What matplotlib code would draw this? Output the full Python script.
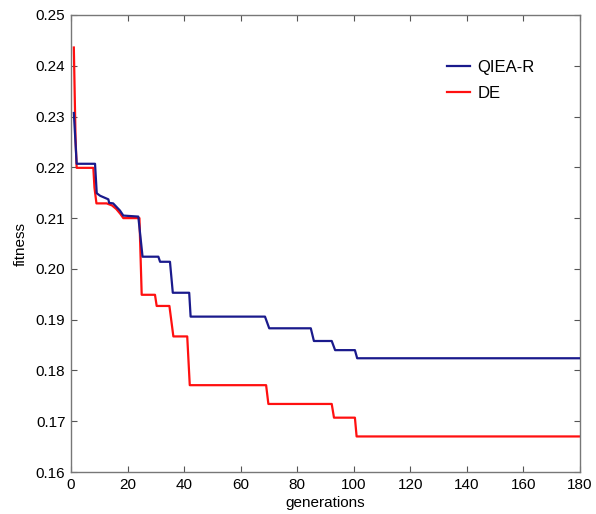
import matplotlib
matplotlib.use("Agg")
import matplotlib.pyplot as plt

plt.rcParams['font.family'] = ['Liberation Sans', 'DejaVu Sans']

# QIEA-R breakpoints (generation, fitness)
qiea_gen = [1, 1.5, 2, 8.5, 9.1, 10.3, 13.2, 13.5, 14.9, 16.1, 17.3, 18.5, 23.8, 25.3,
            30.9, 31.5, 35, 36, 41.8, 42.3, 68.6, 70.1, 84.8, 85.9, 92.2, 93.4,
            100.4, 101.2, 180]
qiea_fit = [0.2307, 0.2258, 0.2207, 0.2207, 0.2149, 0.2144, 0.2137, 0.2130, 0.2129,
            0.2122, 0.2115, 0.2105, 0.2103, 0.2024, 0.2024, 0.2014, 0.2014, 0.1953,
            0.1953, 0.1906, 0.1906, 0.1883, 0.1883, 0.1858, 0.1858, 0.1840, 0.1840,
            0.1824, 0.1824]

# DE breakpoints (generation, fitness)
de_gen = [1, 1.6, 2, 7.9, 8.3, 9, 12.6, 14.5, 16, 17.5, 18.5, 24.2, 25, 29.7, 30.3,
          34.8, 36.2, 41.1, 42, 69, 69.8, 92.2, 93, 100.4, 101, 180]
de_fit = [0.2436, 0.2258, 0.2199, 0.2199, 0.2160, 0.2129, 0.2129, 0.2125, 0.2118,
          0.2108, 0.2100, 0.2100, 0.1949, 0.1949, 0.1927, 0.1927, 0.1867, 0.1867,
          0.1771, 0.1771, 0.1734, 0.1734, 0.1707, 0.1707, 0.1670, 0.1670]

x_ticks = [0, 20, 40, 60, 80, 100, 120, 140, 160, 180]
y_ticks = [0.16, 0.17, 0.18, 0.19, 0.20, 0.21, 0.22, 0.23, 0.24, 0.25]
y_labels = ['0.16', '0.17', '0.18', '0.19', '0.20', '0.21', '0.22', '0.23', '0.24', '0.25']

fig = plt.figure(figsize=(5.96, 5.14), dpi=100)
ax = fig.add_axes([71/596, 42/514, 509/596, 457/514])

l2, = ax.plot(de_gen, de_fit, color='#ff1010', lw=1.6, label='DE', zorder=2)
l1, = ax.plot(qiea_gen, qiea_fit, color='#1a1a8c', lw=1.6, label='QIEA-R', zorder=3)

ax.set_xlim(0, 180)
ax.set_ylim(0.16, 0.25)
ax.set_xticks(x_ticks)
ax.set_yticks(y_ticks)
ax.set_yticklabels(y_labels)
ax.tick_params(direction='in', length=4, width=0.8, top=True, right=True,
               labelsize=11, colors='#555555', labelcolor='black', pad=4)
for s in ax.spines.values():
    s.set_color('#777777')
    s.set_linewidth(1.0)

ax.set_xlabel('generations', fontsize=11, labelpad=3)
ax.set_ylabel('fitness', fontsize=11, labelpad=6)

ax.legend(handles=[l1, l2], loc='upper left', bbox_to_anchor=(0.739, 0.901),
          frameon=False, fontsize=12, borderpad=0, borderaxespad=0,
          handlelength=1.38, handletextpad=0.42, labelspacing=0.63)

fig.savefig('out.png', dpi=100)
